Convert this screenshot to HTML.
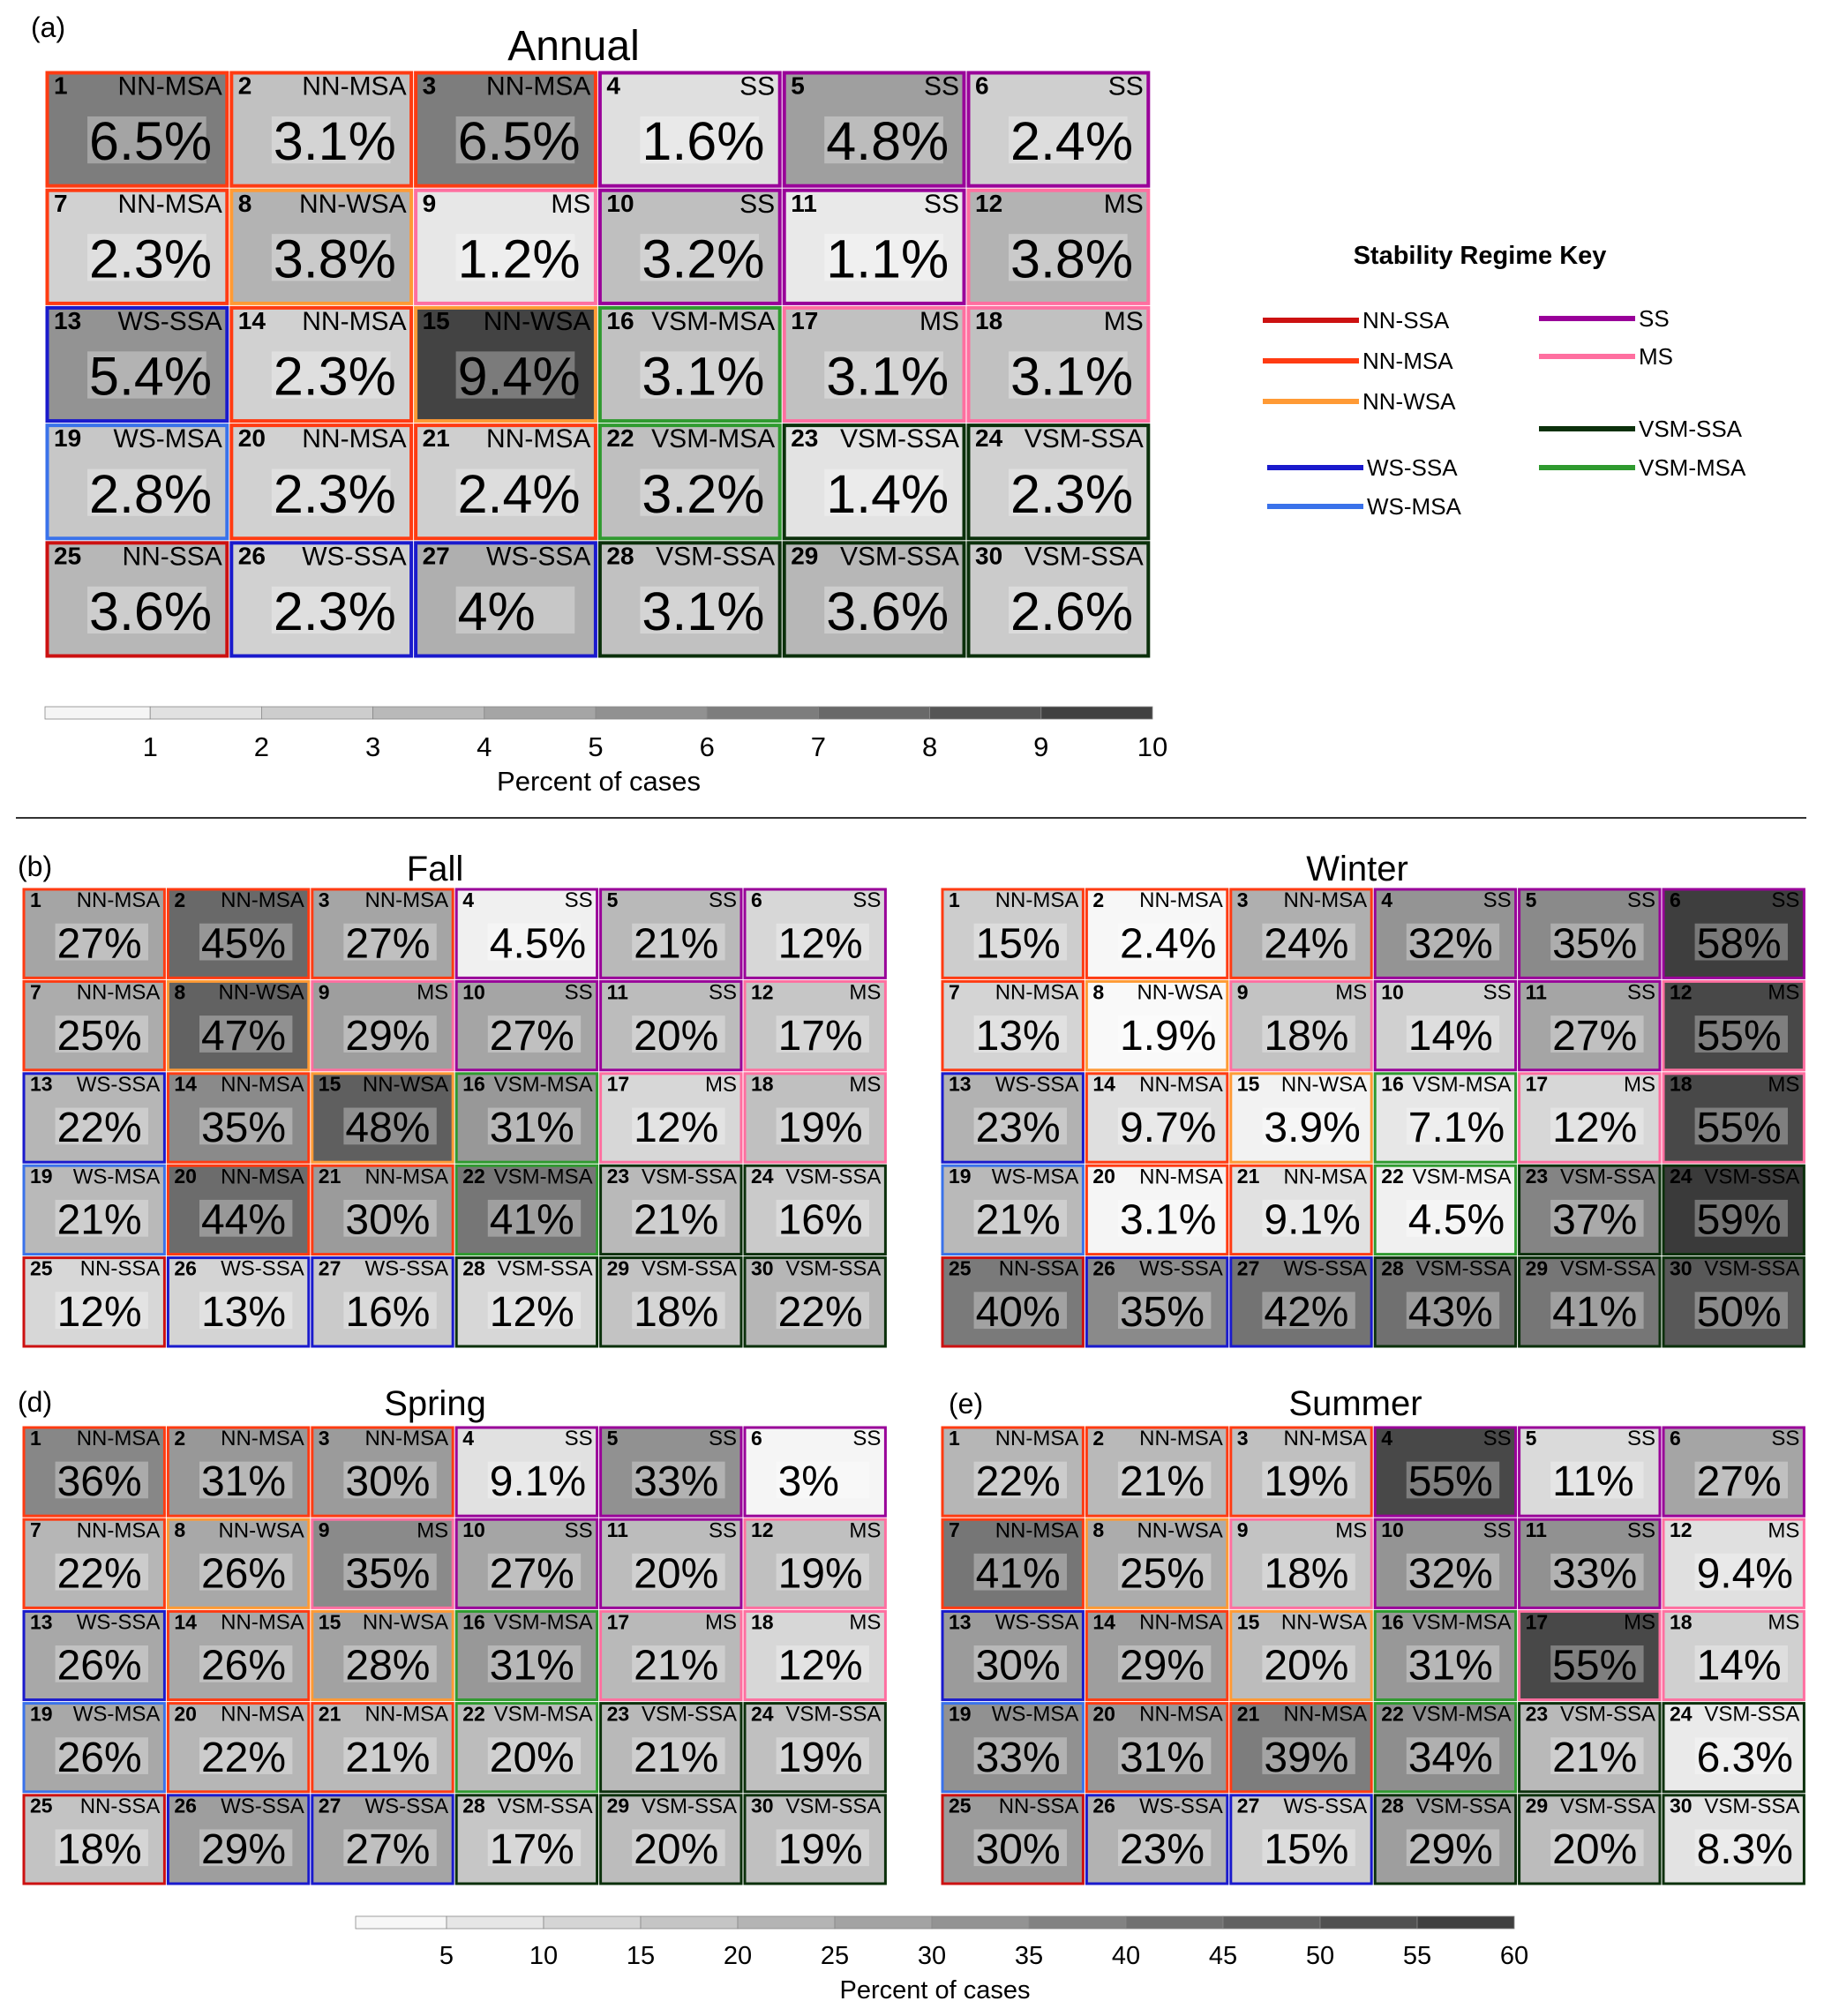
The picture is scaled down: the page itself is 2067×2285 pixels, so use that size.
<!DOCTYPE html>
<html><head><meta charset="utf-8"><title>Stability regime frequencies</title>
<style>
html,body{margin:0;padding:0;background:#fff;}
svg{display:block;font-family:"Liberation Sans",Arial,sans-serif;}
</style></head>
<body>
<svg id="fig" width="2067" height="2285" viewBox="0 0 2067 2285" xmlns="http://www.w3.org/2000/svg">
<rect x="0" y="0" width="2067" height="2285" fill="#fff"/>
<text x="35" y="42" font-size="32">(a)</text>
<text x="650" y="68" font-size="48" text-anchor="middle">Annual</text>
<line x1="18" y1="927" x2="2047" y2="927" stroke="#333" stroke-width="2"/>
<text x="20" y="993" font-size="32">(b)</text>
<text x="493" y="998" font-size="40" text-anchor="middle">Fall</text>
<text x="1538" y="998" font-size="40" text-anchor="middle">Winter</text>
<text x="20" y="1600" font-size="32">(d)</text>
<text x="493" y="1604" font-size="40" text-anchor="middle">Spring</text>
<text x="1075" y="1602" font-size="32">(e)</text>
<text x="1536" y="1604" font-size="40" text-anchor="middle">Summer</text>

<g>
<text x="1677" y="299" font-size="29" font-weight="bold" text-anchor="middle">Stability Regime Key</text>
</g>
<g id="cells"></g>
<g id="cbars"></g>
</svg>
<script>
const labels = ["NN-MSA","NN-MSA","NN-MSA","SS","SS","SS","NN-MSA","NN-WSA","MS","SS","SS","MS","WS-SSA","NN-MSA","NN-WSA","VSM-MSA","MS","MS","WS-MSA","NN-MSA","NN-MSA","VSM-MSA","VSM-SSA","VSM-SSA","NN-SSA","WS-SSA","WS-SSA","VSM-SSA","VSM-SSA","VSM-SSA"];
const annualValues = [6.5,3.1,6.5,1.6,4.8,2.4, 2.3,3.8,1.2,3.2,1.1,3.8, 5.4,2.3,9.4,3.1,3.1,3.1, 2.8,2.3,2.4,3.2,1.4,2.3, 3.6,2.3,4,3.1,3.6,2.6];
const fallValues = [27,45,27,4.5,21,12, 25,47,29,27,20,17, 22,35,48,31,12,19, 21,44,30,41,21,16, 12,13,16,12,18,22];
const winterValues = [15,2.4,24,32,35,58, 13,1.9,18,14,27,55, 23,9.7,3.9,7.1,12,55, 21,3.1,9.1,4.5,37,59, 40,35,42,43,41,50];
const springValues = [36,31,30,9.1,33,3, 22,26,35,27,20,19, 26,26,28,31,21,12, 26,22,21,20,21,19, 18,29,27,17,20,19];
const summerValues = [22,21,19,55,11,27, 41,25,18,32,33,9.4, 30,29,20,31,55,14, 33,31,39,34,21,6.3, 30,23,15,29,20,8.3];
const regimeNames = ["NN-SSA","NN-MSA","NN-WSA","WS-SSA","WS-MSA","SS","MS","VSM-SSA","VSM-MSA"];
const regimeColors = ["#cc1111","#ff3b12","#ff9a35","#1a1acc","#3a72ea","#990099","#ff6fa0","#0b300b","#2f9a2f"];
const annualTicks = [1,2,3,4,5,6,7,8,9,10];
const seasonTicks = [5,10,15,20,25,30,35,40,45,50,55,60];

const NS="http://www.w3.org/2000/svg";
function mk(tag, attrs, parent){const e=document.createElementNS(NS,tag);for(const k in attrs)e.setAttribute(k,attrs[k]);parent.appendChild(e);return e;}
function gray(v,max){const g=Math.round(255-(v/max)*200);return `rgb(${g},${g},${g})`;}
function boxGray(v,max){const g=Math.round(255-(v/max)*200);const b=Math.round(g+(255-g)*0.3);return `rgb(${b},${b},${b})`;}
function fmt(v){return v+"%";}
const svg=document.getElementById('fig');

// legend
const legendX=[1431,1431,1431,1436,1436,1744,1744,1744,1744];
const legendY=[363,409,455,530,574,361,404,486,530];
regimeNames.forEach((n,i)=>{
  const g=mk('g',{},svg);
  
  
  mk('line',{x1:legendX[i],y1:legendY[i],x2:legendX[i]+109,y2:legendY[i],stroke:regimeColors[i],'stroke-width':6},g);
  const t=mk('text',{x:legendX[i]+113,y:legendY[i]+9,'font-size':26},g);
  t.textContent=n;
});

const panels=[
 {name:'annual',vals:annualValues,max:10,x0:51,y0:80,cw:208.8,ch:133.2,nf:28,lf:30,pf:61,bw:4},
 {name:'fall',vals:fallValues,max:60,x0:25,y0:1006,cw:163.4,ch:104.4,nf:23,lf:24,pf:48,bw:3},
 {name:'winter',vals:winterValues,max:60,x0:1066,y0:1006,cw:163.4,ch:104.4,nf:23,lf:24,pf:48,bw:3},
 {name:'spring',vals:springValues,max:60,x0:25,y0:1616,cw:163.4,ch:104.2,nf:23,lf:24,pf:48,bw:3},
 {name:'summer',vals:summerValues,max:60,x0:1066,y0:1616,cw:163.4,ch:104.2,nf:23,lf:24,pf:48,bw:3}
];
const cellsG=document.getElementById('cells');
panels.forEach(p=>{
  const pg=mk('g',{},cellsG);
  
  
  p.vals.forEach((v,i)=>{
    const r=Math.floor(i/6),c=i%6;
    const x=p.x0+c*p.cw,y=p.y0+r*p.ch;
    const g=mk('g',{},pg);
    
    
    const col=regimeColors[regimeNames.indexOf(labels[i])];
    mk('rect',{x:x+p.bw/2+0.5,y:y+p.bw/2+0.5,width:p.cw-p.bw-1,height:p.ch-p.bw-1,fill:gray(v,p.max),stroke:col,'stroke-width':p.bw},g);
    const bx=x+p.cw*0.23,by=y+p.ch*0.39,bwid=p.cw*0.645,bh=p.ch*0.4;
    mk('rect',{x:bx,y:by,width:bwid,height:bh,fill:boxGray(v,p.max)},g);
    const num=mk('text',{x:x+p.bw+6,y:y+p.nf*0.95,'font-size':p.nf,'font-weight':'bold'},g);
    num.textContent=String(i+1);
    const lab=mk('text',{x:x+p.cw-p.bw-4,y:y+p.lf*0.92,'font-size':p.lf,'text-anchor':'end'},g);
    lab.textContent=labels[i];
    const pt=mk('text',{x:bx+2,y:by+bh/2+p.pf*0.37,'font-size':p.pf},g);
    
    
    pt.textContent=fmt(v);
  });
});

// colorbars
const cbG=document.getElementById('cbars');
function colorbar(name,ticks,max,xs,xe,zero,y,h,tf,ly,tly){
  const g=mk('g',{},cbG);
  
  
  const sx=v=>zero+(v/max)*(xe-zero);
  const edges=[0].concat(ticks);
  for(let i=0;i<ticks.length;i++){
    const a=Math.max(xs,sx(edges[i])),b=sx(edges[i+1]);
    const mid=(i+0.5)/ticks.length*max;
    const gg=Math.round(255-(mid/max)*200);
    mk('rect',{x:a,y:y,width:b-a,height:h,fill:`rgb(${gg},${gg},${gg})`,stroke:'#888','stroke-width':0.8},g);
  }
  ticks.forEach(t=>{
    const tx=mk('text',{x:sx(t),y:ly,'font-size':tf,'text-anchor':'middle'},g);
    tx.textContent=String(t);
  });
  const tl=mk('text',{x:(xs+xe)/2,y:tly,'font-size':tf,'text-anchor':'middle'},g);
  tl.textContent='Percent of cases';
}
colorbar('annual-colorbar',annualTicks,10,51,1306,44,801,14,31,857,896);
colorbar('seasonal-colorbar',seasonTicks,60,403,1716,396,2172,14,29,2226,2265);
</script>
</body></html>
